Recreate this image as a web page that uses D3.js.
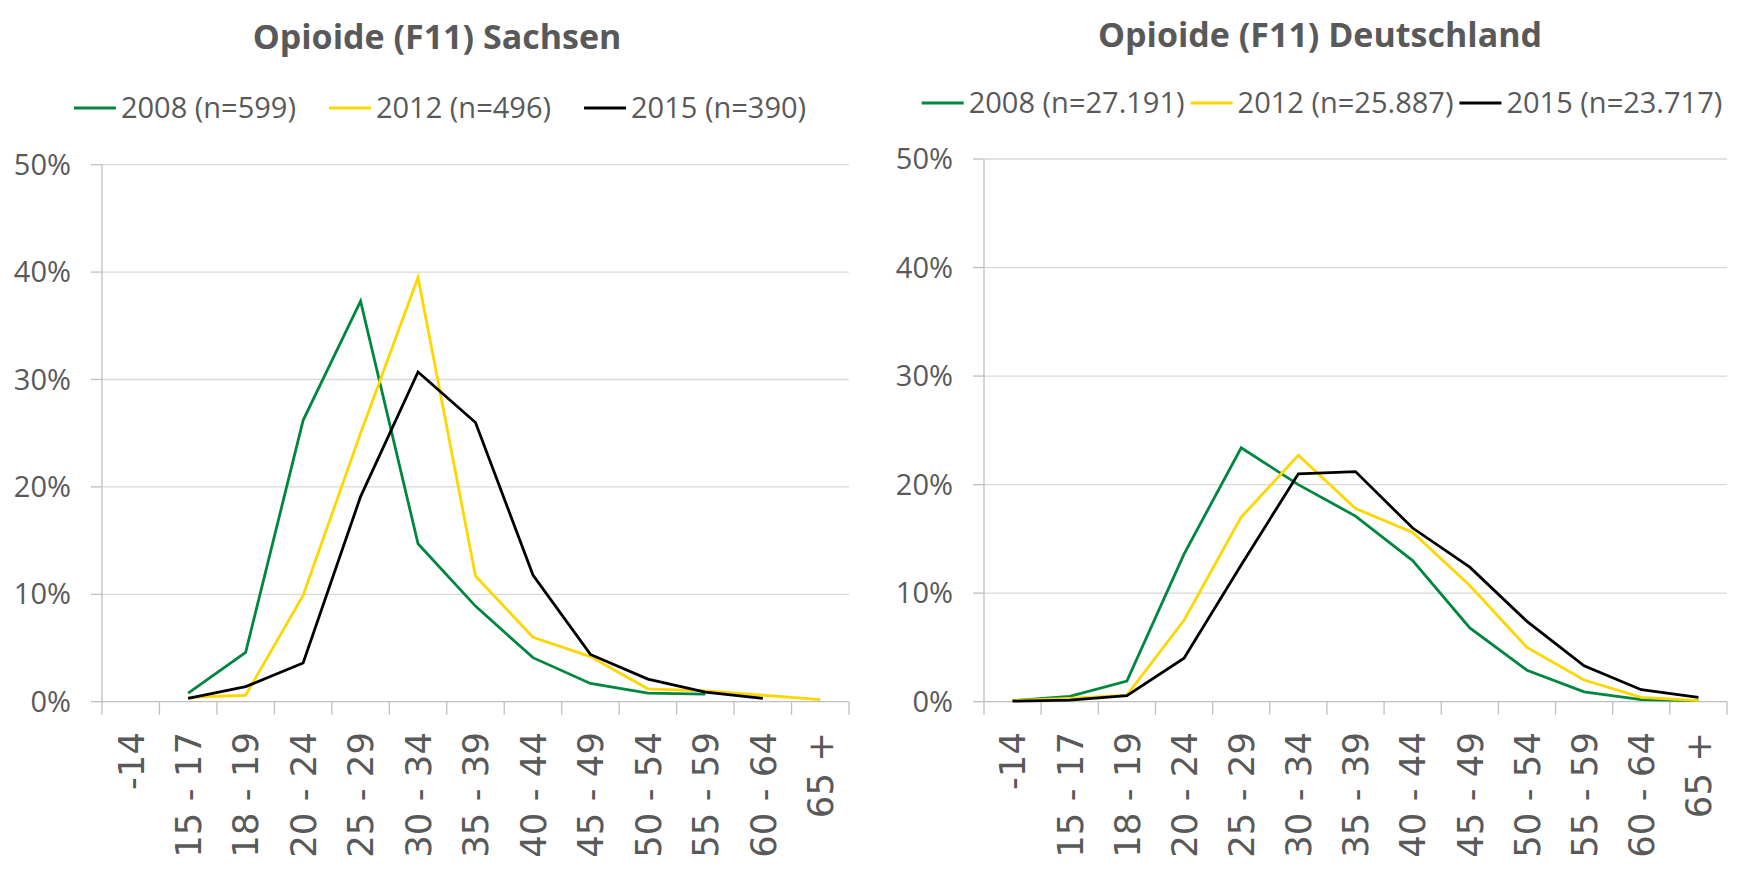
<!DOCTYPE html>
<html>
<head>
<meta charset="utf-8">
<script src="https://cdn.jsdelivr.net/npm/d3@7"></script>
<style>
  html, body { margin: 0; padding: 0; background: #ffffff; }
  svg { display: block; }
</style>
</head>
<body>
<svg id="chart" width="1760" height="872"></svg>
<script>
// ---------- data ----------
const categories = ["-14", "15 - 17", "18 - 19", "20 - 24", "25 - 29", "30 - 34", "35 - 39",
                    "40 - 44", "45 - 49", "50 - 54", "55 - 59", "60 - 64", "65 +"];
const yTicks = [0, 0.1, 0.2, 0.3, 0.4, 0.5];
const seriesYears = ["2008", "2012", "2015"];

const titleSachsen = "Opioide (F11) Sachsen";
const titleDeutschland = "Opioide (F11) Deutschland";

const legendSachsen = ["2008 (n=599)", "2012 (n=496)", "2015 (n=390)"];
const legendDeutschland = ["2008 (n=27.191)", "2012 (n=25.887)", "2015 (n=23.717)"];

// values in percent
const sachsen2008 = [null, 0.8, 4.6, 26.2, 37.3, 14.7, 8.9, 4.1, 1.7, 0.8, 0.7, null, null];
const sachsen2012 = [null, 0.4, 0.6, 9.9, 25.0, 39.5, 11.7, 6.0, 4.2, 1.2, 1.0, 0.6, 0.2];
const sachsen2015 = [null, 0.3, 1.4, 3.6, 19.1, 30.7, 26.0, 11.8, 4.4, 2.1, 0.9, 0.3, null];

const deutschland2008 = [0.1, 0.5, 1.9, 13.6, 23.4, 20.0, 17.1, 13.0, 6.8, 2.9, 0.9, 0.2, 0.1];
const deutschland2012 = [0.1, 0.3, 0.6, 7.5, 17.0, 22.7, 17.8, 15.6, 10.7, 5.0, 2.0, 0.4, 0.1];
const deutschland2015 = [0.05, 0.15, 0.55, 4.0, 12.6, 21.0, 21.2, 16.0, 12.4, 7.4, 3.3, 1.1, 0.4];

// ---------- styles ----------
const colors = ["#00873f", "#ffd700", "#000000"];
const textColor = "#595959";
const gridColor = "#d9d9d9";
const axisColor = "#bfbfbf";
const fontMain = "'Open Sans', 'Noto Sans', sans-serif";
const fontCat = "'DejaVu Sans', 'Noto Sans', sans-serif";

// ---------- layout ----------
const panels = [
  { title: titleSachsen, legend: legendSachsen,
    series: [sachsen2008, sachsen2012, sachsen2015],
    x0: 102, x1: 849, yBottom: 701.7, yTop: 164.7,
    titleX: 437, titleY: 49, legendCX: 440, legendY: 108, legendGap: 33,
    yLabelX: 71 },
  { title: titleDeutschland, legend: legendDeutschland,
    series: [deutschland2008, deutschland2012, deutschland2015],
    x0: 984, x1: 1727, yBottom: 701.7, yTop: 159,
    titleX: 1320, titleY: 47, legendCX: 1322, legendY: 103, legendGap: 6,
    yLabelX: 953 }
];

const svg = d3.select("#chart");

panels.forEach(p => {
  const g = svg.append("g");

  const x = d3.scaleBand().domain(categories).range([p.x0, p.x1]).paddingInner(0).paddingOuter(0);
  const y = d3.scaleLinear().domain([0, 0.5]).range([p.yBottom, p.yTop]);
  const cx = c => x(c) + x.bandwidth() / 2;

  // gridlines (non-zero)
  g.selectAll("line.grid").data(yTicks.filter(t => t > 0)).join("line")
    .attr("class", "grid")
    .attr("x1", p.x0).attr("x2", p.x1)
    .attr("y1", d => y(d)).attr("y2", d => y(d))
    .attr("stroke", gridColor).attr("stroke-width", 1.3);

  // y tick marks
  g.selectAll("line.ytick").data(yTicks).join("line")
    .attr("class", "ytick")
    .attr("x1", p.x0 - 11).attr("x2", p.x0)
    .attr("y1", d => y(d)).attr("y2", d => y(d))
    .attr("stroke", axisColor).attr("stroke-width", 1.3);

  // y axis line
  g.append("line")
    .attr("x1", p.x0).attr("x2", p.x0)
    .attr("y1", y(0.5)).attr("y2", y(0))
    .attr("stroke", axisColor).attr("stroke-width", 1.3);

  // x axis line
  g.append("line")
    .attr("x1", p.x0).attr("x2", p.x1)
    .attr("y1", y(0)).attr("y2", y(0))
    .attr("stroke", axisColor).attr("stroke-width", 1.3);

  // x tick marks at category boundaries
  const bounds = categories.map(c => x(c)).concat([p.x1]);
  g.selectAll("line.xtick").data(bounds).join("line")
    .attr("class", "xtick")
    .attr("x1", d => d).attr("x2", d => d)
    .attr("y1", y(0)).attr("y2", y(0) + 13)
    .attr("stroke", axisColor).attr("stroke-width", 1.3);

  // y tick labels
  g.selectAll("text.ylab").data(yTicks).join("text")
    .attr("class", "ylab")
    .attr("x", p.yLabelX).attr("y", d => y(d))
    .attr("dy", "0.35em")
    .attr("text-anchor", "end")
    .attr("font-family", fontMain).attr("font-size", 29)
    .attr("fill", textColor)
    .text(d3.format(".0%"));

  // x category labels (rotated)
  g.selectAll("text.xlab").data(categories).join("text")
    .attr("class", "xlab")
    .attr("transform", d => `translate(${cx(d)},732) rotate(-90)`)
    .attr("dy", "0.36em")
    .attr("text-anchor", "end")
    .attr("font-family", fontCat).attr("font-size", 35.5)
    .attr("fill", textColor)
    .text(d => d);

  // lines
  const line = d3.line()
    .defined(d => d.v != null)
    .x(d => cx(d.c))
    .y(d => y(d.v / 100));

  p.series.forEach((vals, i) => {
    const data = categories.map((c, k) => ({ c, v: vals[k] }));
    g.append("path")
      .datum(data)
      .attr("d", line)
      .attr("fill", "none")
      .attr("stroke", colors[i])
      .attr("stroke-width", 2.8)
      .attr("stroke-linejoin", "miter");
  });

  // title
  g.append("text")
    .attr("x", p.titleX).attr("y", p.titleY)
    .attr("text-anchor", "middle")
    .attr("font-family", fontMain).attr("font-size", 34).attr("font-weight", "bold")
    .attr("fill", textColor)
    .text(p.title);

  // legend
  const lg = g.append("g");
  const items = p.legend.map((label, i) => {
    const it = lg.append("g");
    it.append("line")
      .attr("x1", 0).attr("x2", 42)
      .attr("y1", 0).attr("y2", 0)
      .attr("stroke", colors[i]).attr("stroke-width", 3);
    const t = it.append("text")
      .attr("x", 47).attr("y", 0).attr("dy", "0.35em")
      .attr("font-family", fontMain).attr("font-size", 29)
      .attr("fill", textColor)
      .text(label);
    return { it, w: 47 + t.node().getComputedTextLength() };
  });
  const total = d3.sum(items, d => d.w) + p.legendGap * (items.length - 1);
  let pos = p.legendCX - total / 2;
  items.forEach(d => {
    d.it.attr("transform", `translate(${pos},${p.legendY})`);
    pos += d.w + p.legendGap;
  });
});
</script>
</body>
</html>
